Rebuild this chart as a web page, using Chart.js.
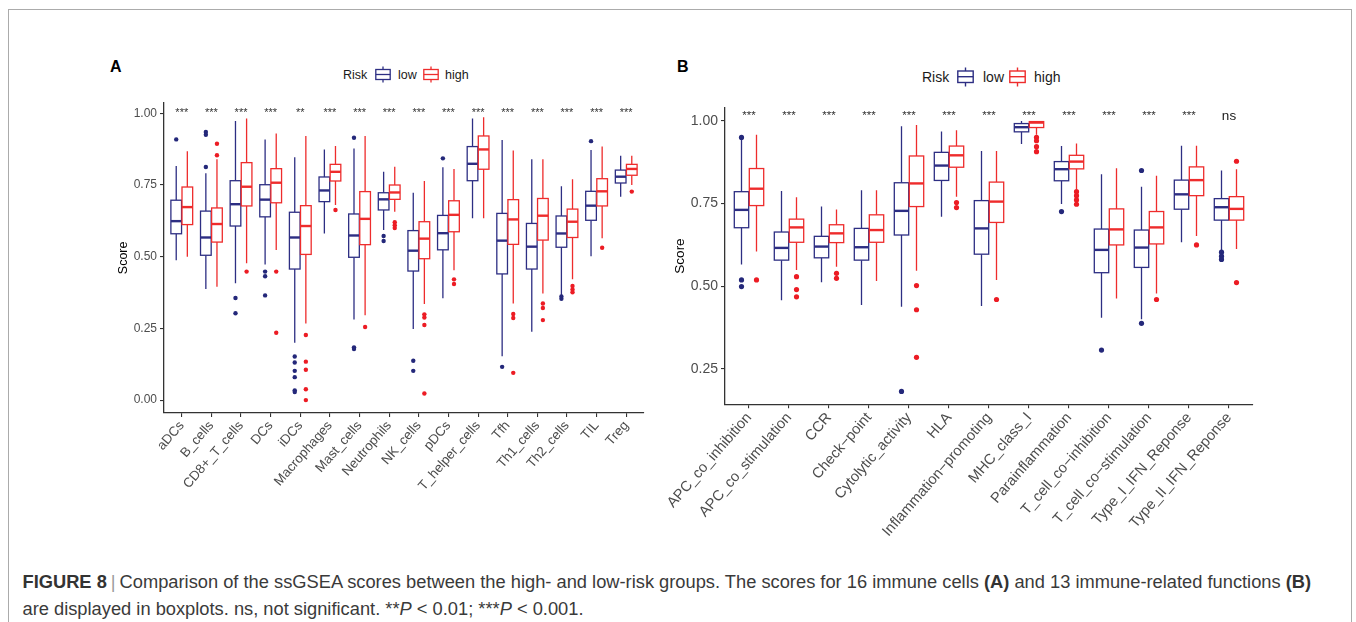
<!DOCTYPE html>
<html>
<head>
<meta charset="utf-8">
<script src="https://cdn.jsdelivr.net/npm/chart.js@4.4.1/dist/chart.umd.min.js"></script>
<style>
  html, body { margin: 0; padding: 0; background: #fff; }
  body { width: 1356px; height: 622px; position: relative; overflow: hidden; font-family: 'Liberation Sans', Arial, sans-serif; }
  .frame { position: absolute; left: 8px; top: 9px; width: 1344px; height: 700px; border: 1.5px solid #ababab; box-sizing: border-box; }
  .abs { position: absolute; white-space: nowrap; }
  .tag { font-weight: bold; font-size: 16px; line-height: 20px; color: #000; }
  .leg { line-height: 20px; color: #1a1a1a; }
  canvas { position: absolute; }
  .caption { position: absolute; left: 22.5px; top: 568.8px; font-size: 18.3px; line-height: 26.7px; color: #3a3a3a; white-space: nowrap; }
  .caption b { color: #333; }
  .caption .bar { color: #9a9a9a; padding: 0 4px; }
</style>
</head>
<body>
<div class="frame"></div>

<div class="abs tag" style="left:110px; top:57px;">A</div>
<div class="abs tag" style="left:677px; top:57px;">B</div>

<div class="abs leg" style="left:343px; top:64.6px; font-size:12.5px;">Risk</div>
<svg class="abs" style="left:375px; top:66px;" width="16" height="17"><g fill="#fff" stroke-width="1.3"><line x1="8" y1="0.5" x2="8" y2="3.5" stroke="#2D2E83"/><line x1="8" y1="13.5" x2="8" y2="16.5" stroke="#2D2E83"/><rect x="0.8" y="3.5" width="14.4" height="10" stroke="#2D2E83"/><line x1="0.8" y1="8.5" x2="15.2" y2="8.5" stroke="#2D2E83"/></g></svg>
<div class="abs leg" style="left:398px; top:64.6px; font-size:12.5px;">low</div>
<svg class="abs" style="left:422.5px; top:66px;" width="16" height="17"><g fill="#fff" stroke-width="1.3"><line x1="8" y1="0.5" x2="8" y2="3.5" stroke="#EE2C2C"/><line x1="8" y1="13.5" x2="8" y2="16.5" stroke="#EE2C2C"/><rect x="0.8" y="3.5" width="14.4" height="10" stroke="#EE2C2C"/><line x1="0.8" y1="8.5" x2="15.2" y2="8.5" stroke="#EE2C2C"/></g></svg>
<div class="abs leg" style="left:445px; top:64.6px; font-size:12.5px;">high</div>

<div class="abs leg" style="left:922px; top:66.5px; font-size:14px;">Risk</div>
<svg class="abs" style="left:957px; top:67px;" width="17" height="20"><g fill="#fff" stroke-width="1.4"><line x1="8.5" y1="0.5" x2="8.5" y2="4" stroke="#2D2E83"/><line x1="8.5" y1="15.5" x2="8.5" y2="19.5" stroke="#2D2E83"/><rect x="0.8" y="4" width="15.4" height="11.5" stroke="#2D2E83"/><line x1="0.8" y1="9.7" x2="16.2" y2="9.7" stroke="#2D2E83"/></g></svg>
<div class="abs leg" style="left:983px; top:66.5px; font-size:14px;">low</div>
<svg class="abs" style="left:1009px; top:67px;" width="17" height="20"><g fill="#fff" stroke-width="1.4"><line x1="8.5" y1="0.5" x2="8.5" y2="4" stroke="#EE2C2C"/><line x1="8.5" y1="15.5" x2="8.5" y2="19.5" stroke="#EE2C2C"/><rect x="0.8" y="4" width="15.4" height="11.5" stroke="#EE2C2C"/><line x1="0.8" y1="9.7" x2="16.2" y2="9.7" stroke="#EE2C2C"/></g></svg>
<div class="abs leg" style="left:1034px; top:66.5px; font-size:14px;">high</div>

<canvas id="panelA" width="560" height="410" style="left:112px; top:90px;"></canvas>
<canvas id="panelB" width="622" height="450" style="left:668px; top:95px;"></canvas>

<div class="caption"><b>FIGURE 8</b><span class="bar">|</span>Comparison of the ssGSEA scores between the high- and low-risk groups. The scores for 16 immune cells <b>(A)</b> and 13 immune-related functions <b>(B)</b><br>are displayed in boxplots. ns, not significant. **<i>P</i> &lt; 0.01; ***<i>P</i> &lt; 0.001.</div>

<script>
// Panel A: immune cells, [min, q1, median, q3, max]
var cellTypes = ['aDCs', 'B_cells', 'CD8+_T_cells', 'DCs', 'iDCs', 'Macrophages', 'Mast_cells', 'Neutrophils',
  'NK_cells', 'pDCs', 'T_helper_cells', 'Tfh', 'Th1_cells', 'Th2_cells', 'TIL', 'Treg'];
var cellLow = [
  [0.488, 0.580, 0.624, 0.697, 0.816], [0.387, 0.505, 0.567, 0.659, 0.791], [0.407, 0.607, 0.683, 0.765, 0.973],
  [0.473, 0.639, 0.699, 0.751, 0.909], [0.200, 0.457, 0.567, 0.655, 0.847], [0.581, 0.692, 0.731, 0.778, 0.874],
  [0.281, 0.498, 0.574, 0.649, 0.877], [0.593, 0.663, 0.700, 0.723, 0.796], [0.248, 0.450, 0.521, 0.591, 0.723],
  [0.355, 0.524, 0.582, 0.644, 0.812], [0.634, 0.765, 0.824, 0.884, 0.982], [0.153, 0.440, 0.556, 0.651, 0.907],
  [0.238, 0.457, 0.535, 0.616, 0.840], [0.366, 0.533, 0.581, 0.642, 0.746], [0.502, 0.627, 0.678, 0.728, 0.872],
  [0.709, 0.757, 0.779, 0.802, 0.852]
];
var cellHigh = [
  [0.500, 0.612, 0.673, 0.743, 0.868], [0.395, 0.551, 0.614, 0.670, 0.840], [0.477, 0.677, 0.744, 0.828, 0.982],
  [0.523, 0.688, 0.758, 0.807, 0.930], [0.267, 0.508, 0.607, 0.678, 0.921], [0.680, 0.764, 0.796, 0.822, 0.886],
  [0.296, 0.542, 0.632, 0.727, 0.921], [0.657, 0.700, 0.724, 0.750, 0.814], [0.335, 0.493, 0.563, 0.622, 0.764],
  [0.453, 0.587, 0.646, 0.695, 0.806], [0.634, 0.805, 0.874, 0.921, 0.986], [0.337, 0.543, 0.630, 0.699, 0.870],
  [0.372, 0.558, 0.643, 0.703, 0.840], [0.421, 0.567, 0.622, 0.666, 0.770], [0.564, 0.677, 0.728, 0.772, 0.884],
  [0.750, 0.784, 0.806, 0.822, 0.852]
];
var cellLowOut = [[0.909], [0.935, 0.925, 0.813], [0.356, 0.303], [0.448, 0.432, 0.365],
  [0.152, 0.131, 0.102, 0.080, 0.034, 0.028], [], [0.915, 0.184, 0.178], [0.572, 0.555], [0.137, 0.102],
  [0.843], [], [0.116], [], [0.361, 0.353], [0.903], []];
var cellHighOut = [[], [0.894, 0.854], [0.448], [0.448, 0.235], [0.227, 0.134, 0.106, 0.038, 0.0], [0.663],
  [0.255], [0.620, 0.610, 0.600], [0.299, 0.288, 0.262, 0.023], [0.421, 0.405], [], [0.300, 0.286, 0.095],
  [0.337, 0.321, 0.279], [0.398, 0.386, 0.376], [0.531], [0.727]];
var cellSig = ['***', '***', '***', '***', '**', '***', '***', '***', '***', '***', '***', '***', '***', '***', '***', '***'];
var cellTicks = [0, 0.25, 0.5, 0.75, 1];

// Panel B: immune-related functions
var funcNames = ['APC_co_inhibition', 'APC_co_stimulation', 'CCR', 'Check\u2212point', 'Cytolytic_activity', 'HLA',
  'Inflammation\u2212promoting', 'MHC_class_I', 'Parainflammation', 'T_cell_co\u2212inhibition',
  'T_cell_co\u2212stimulation', 'Type_I_IFN_Reponse', 'Type_II_IFN_Reponse'];
var funcLow = [
  [0.566, 0.677, 0.731, 0.786, 0.942], [0.458, 0.579, 0.616, 0.664, 0.788], [0.512, 0.586, 0.620, 0.651, 0.741],
  [0.443, 0.579, 0.618, 0.675, 0.790], [0.438, 0.655, 0.728, 0.813, 0.984], [0.710, 0.820, 0.865, 0.905, 0.968],
  [0.440, 0.597, 0.675, 0.759, 0.909], [0.930, 0.967, 0.981, 0.992, 1.000], [0.749, 0.819, 0.854, 0.877, 0.924],
  [0.405, 0.541, 0.610, 0.673, 0.839], [0.400, 0.557, 0.617, 0.670, 0.801], [0.633, 0.733, 0.778, 0.821, 0.925],
  [0.610, 0.700, 0.739, 0.765, 0.850]
];
var funcHigh = [
  [0.605, 0.744, 0.795, 0.856, 0.958], [0.549, 0.633, 0.678, 0.703, 0.769], [0.559, 0.632, 0.660, 0.686, 0.732],
  [0.516, 0.633, 0.670, 0.716, 0.790], [0.547, 0.741, 0.811, 0.894, 0.988], [0.771, 0.860, 0.896, 0.924, 0.972],
  [0.519, 0.693, 0.756, 0.815, 0.909], [0.958, 0.980, 0.995, 0.998, 1.000], [0.793, 0.855, 0.877, 0.896, 0.932],
  [0.463, 0.625, 0.672, 0.734, 0.857], [0.478, 0.628, 0.678, 0.726, 0.834], [0.652, 0.774, 0.821, 0.861, 0.925],
  [0.613, 0.700, 0.734, 0.771, 0.854]
];
var funcLowOut = [[0.950, 0.519, 0.499], [], [], [], [0.182], [], [], [], [0.726], [0.307], [0.850, 0.388], [],
  [0.603, 0.591, 0.581]];
var funcHighOut = [[0.519], [0.529, 0.490, 0.468], [0.539, 0.524], [], [0.502, 0.429, 0.285], [0.753, 0.738],
  [0.460], [0.950, 0.940, 0.922, 0.907], [0.786, 0.774, 0.761, 0.748], [], [0.460], [0.625], [0.878, 0.511]];
var funcSig = ['***', '***', '***', '***', '***', '***', '***', '***', '***', '***', '***', '***', 'ns'];
var funcTicks = [0.25, 0.5, 0.75, 1];

var LOW = '#2D2E83', HIGH = '#EE2C2C';
var LOW_DOT = '#24287A', HIGH_DOT = '#EC1C24';
var DODGE = 0.1875, HALF = 0.18;

Chart.defaults.font.family = "'Liberation Sans', Arial, sans-serif";

function outlierPoints(out, shift) {
  var pts = [];
  out.forEach(function (vals, i) {
    vals.forEach(function (v) { pts.push({ x: i + shift, y: v }); });
  });
  return pts;
}

function boxPlugin(low, high, sig, sigY, starSize, nsSize) {
  return {
    id: 'boxes',
    beforeDatasetsDraw: function (chart) {
      var ctx = chart.ctx, xs = chart.scales.x, ys = chart.scales.y;
      var half = xs.getPixelForValue(HALF) - xs.getPixelForValue(0);
      [[low, -DODGE, LOW], [high, DODGE, HIGH]].forEach(function (g) {
        g[0].forEach(function (s, i) {
          var cx = xs.getPixelForValue(i + g[1]);
          var yMin = ys.getPixelForValue(s[0]), yQ1 = ys.getPixelForValue(s[1]);
          var yMed = ys.getPixelForValue(s[2]), yQ3 = ys.getPixelForValue(s[3]);
          var yMax = ys.getPixelForValue(s[4]);
          ctx.save();
          ctx.strokeStyle = g[2];
          ctx.lineWidth = 1.3;
          ctx.beginPath();
          ctx.moveTo(cx, yMax); ctx.lineTo(cx, yQ3);
          ctx.moveTo(cx, yQ1); ctx.lineTo(cx, yMin);
          ctx.stroke();
          ctx.fillStyle = '#fff';
          ctx.fillRect(cx - half, yQ3, 2 * half, yQ1 - yQ3);
          ctx.strokeRect(cx - half, yQ3, 2 * half, yQ1 - yQ3);
          ctx.lineWidth = 2.4;
          ctx.beginPath();
          ctx.moveTo(cx - half, yMed); ctx.lineTo(cx + half, yMed);
          ctx.stroke();
          ctx.restore();
        });
      });
    },
    afterDatasetsDraw: function (chart) {
      var ctx = chart.ctx, xs = chart.scales.x, ys = chart.scales.y;
      ctx.save();
      ctx.textAlign = 'center';
      ctx.textBaseline = 'middle';
      sig.forEach(function (t, i) {
        var x = xs.getPixelForValue(i), y = ys.getPixelForValue(sigY);
        if (t.indexOf('*') >= 0) {
          ctx.font = starSize + "px 'Liberation Sans', Arial, sans-serif";
          ctx.fillStyle = '#333';
          ctx.fillText(t, x, y + starSize * 0.25);
        } else {
          ctx.font = nsSize + "px 'Liberation Sans', Arial, sans-serif";
          ctx.fillStyle = '#1a1a1a';
          ctx.fillText(t, x, y + 3);
        }
      });
      ctx.restore();
    }
  };
}

function makePanel(id, p) {
  var n = p.names.length;
  return new Chart(document.getElementById(id), {
    type: 'scatter',
    data: {
      datasets: [
        { label: 'low', data: outlierPoints(p.lowOut, -DODGE), backgroundColor: LOW_DOT, borderWidth: 0, pointRadius: p.dot },
        { label: 'high', data: outlierPoints(p.highOut, DODGE), backgroundColor: HIGH_DOT, borderWidth: 0, pointRadius: p.dot }
      ]
    },
    options: {
      responsive: false,
      animation: false,
      devicePixelRatio: 1,
      layout: { padding: { top: p.padTop, right: p.padRight, bottom: 0, left: 0 } },
      plugins: { legend: { display: false }, tooltip: { enabled: false } },
      scales: {
        x: {
          type: 'linear',
          min: -0.6,
          max: n - 0.4,
          afterBuildTicks: function (s) { s.ticks = p.names.map(function (c, i) { return { value: i }; }); },
          afterFit: function (s) { s.height = p.xHeight; s.paddingLeft = 0; s.paddingRight = 0; },
          ticks: {
            autoSkip: false,
            minRotation: p.rot,
            maxRotation: p.rot,
            padding: 1,
            color: '#4D4D4D',
            font: { size: p.xFont },
            callback: function (v) { return p.names[v]; }
          },
          grid: { drawOnChartArea: false, tickLength: 4, color: '#333', lineWidth: 1.1 },
          border: { display: true, color: '#333', width: 1.3 }
        },
        y: {
          min: p.yMin,
          max: p.yMax,
          afterBuildTicks: function (s) { s.ticks = p.yTicks.map(function (v) { return { value: v }; }); },
          afterFit: function (s) { s.width = p.yWidth; s.paddingTop = 0; s.paddingBottom = 0; },
          ticks: {
            padding: 3,
            color: '#4D4D4D',
            font: { size: p.yFont },
            callback: function (v) { return v.toFixed(2); }
          },
          grid: { drawOnChartArea: false, tickLength: 4, color: '#333', lineWidth: 1.1 },
          border: { display: true, color: '#333', width: 1.3 },
          title: { display: true, text: 'Score', color: '#000', font: { size: p.titleFont }, padding: { top: 4, bottom: 0 } }
        }
      }
    },
    plugins: [boxPlugin(p.low, p.high, p.sig, p.sigY, p.star, p.ns)]
  });
}

makePanel('panelA', {
  names: cellTypes, low: cellLow, high: cellHigh, lowOut: cellLowOut, highOut: cellHighOut, sig: cellSig,
  yTicks: cellTicks, yMin: -0.045, yMax: 1.037, sigY: 1.0105,
  padTop: 12.7, padRight: 28, xHeight: 87, yWidth: 52, rot: 49,
  xFont: 13.3, yFont: 12, titleFont: 12.5, dot: 2.2, star: 11, ns: 13
});

makePanel('panelB', {
  names: funcNames, low: funcLow, high: funcHigh, lowOut: funcLowOut, highOut: funcHighOut, sig: funcSig,
  yTicks: funcTicks, yMin: 0.143, yMax: 1.040, sigY: 1.023,
  padTop: 12.7, padRight: 37, xHeight: 140.7, yWidth: 57, rot: 49,
  xFont: 14.7, yFont: 14, titleFont: 13.5, dot: 2.6, star: 11.5, ns: 13.5
});
</script>
</body>
</html>
